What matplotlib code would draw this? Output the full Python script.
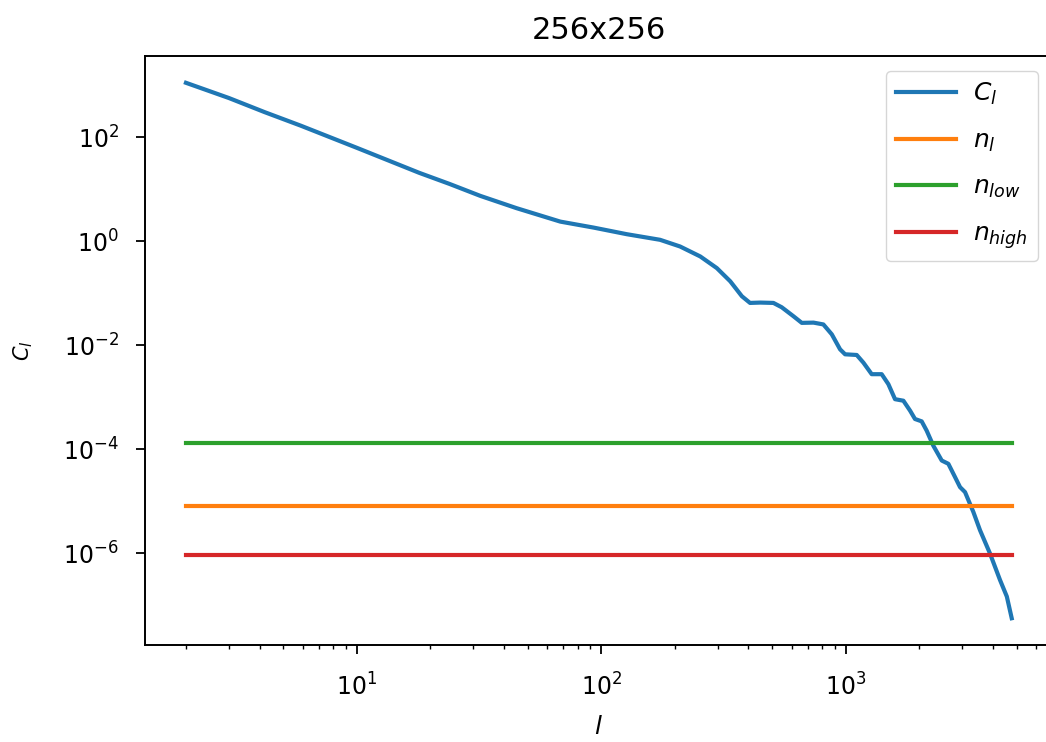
import matplotlib
matplotlib.use("Agg")
import matplotlib.pyplot as plt
from matplotlib.ticker import NullLocator

# Angular power spectrum sampled along the curve
ell = [2, 3, 4.2, 5.9, 10, 18, 24, 32, 45, 68, 93, 127, 174, 210, 254, 297,
       337, 376, 406, 447, 506, 547, 611, 661, 738, 810, 877, 948, 994,
       1109, 1181, 1277, 1403, 1494, 1591, 1721, 1834, 1920, 2045, 2143,
       2281, 2470, 2629, 2800, 2935, 3076, 3327, 3542, 3891, 4276, 4560, 4775]
cl = [1.1e3, 5.6e2, 3.0e2, 1.65e2, 62, 20.5, 12.5, 7.4, 4.3, 2.37, 1.82, 1.36,
      1.06, 0.789, 0.508, 0.303, 0.169, 0.0873, 0.065, 0.066, 0.065, 0.0537,
      0.0361, 0.0269, 0.0272, 0.0251, 0.0162, 8.35e-3, 6.7e-3, 6.5e-3,
      4.63e-3, 2.78e-3, 2.78e-3, 1.79e-3, 9.2e-4, 8.6e-4, 5.52e-4, 3.83e-4,
      3.45e-4, 2.29e-4, 1.18e-4, 6.1e-5, 5.28e-5, 2.93e-5, 1.88e-5, 1.51e-5,
      6.27e-6, 2.8e-6, 1.0e-6, 3.1e-7, 1.49e-7, 5.7e-8]

# Noise levels
n_l = 8.2e-6
n_low = 1.31e-4
n_high = 9.3e-7

title = "256x256"
ytick_vals = [1e2, 1e0, 1e-2, 1e-4, 1e-6]

fig = plt.figure(figsize=(10.46, 7.42), dpi=100)
ax = fig.add_axes([0.1383, 0.1307, 0.8684, 0.7938])

lw = 3
ax.plot(ell, cl, color="C0", lw=lw, label=r"$C_l$")
ax.plot([ell[0], ell[-1]], [n_l, n_l], color="C1", lw=lw, label=r"$n_l$")
ax.plot([ell[0], ell[-1]], [n_low, n_low], color="C2", lw=lw, label=r"$n_{low}$")
ax.plot([ell[0], ell[-1]], [n_high, n_high], color="C3", lw=lw, label=r"$n_{high}$")

ax.set_xscale("log")
ax.set_yscale("log")
ax.set_yticks(ytick_vals)
ax.yaxis.set_minor_locator(NullLocator())

ax.tick_params(axis="both", which="major", labelsize=17, length=6.5, width=1.3)
ax.tick_params(axis="x", which="major", pad=14)
ax.tick_params(axis="y", which="major", pad=12)
ax.tick_params(axis="both", which="minor", length=3, width=1.0)
for sp in ax.spines.values():
    sp.set_linewidth(1.4)

ax.set_title(title, fontsize=22, pad=12)
ax.set_xlabel(r"$l$", fontsize=18, labelpad=10)
ax.set_ylabel(r"$C_l$", fontsize=15, labelpad=20)

ax.legend(loc="upper right", fontsize=18, handlelength=2.4,
          handletextpad=0.7, labelspacing=0.85, borderaxespad=0.6)

fig.savefig("out.png", dpi=100)
